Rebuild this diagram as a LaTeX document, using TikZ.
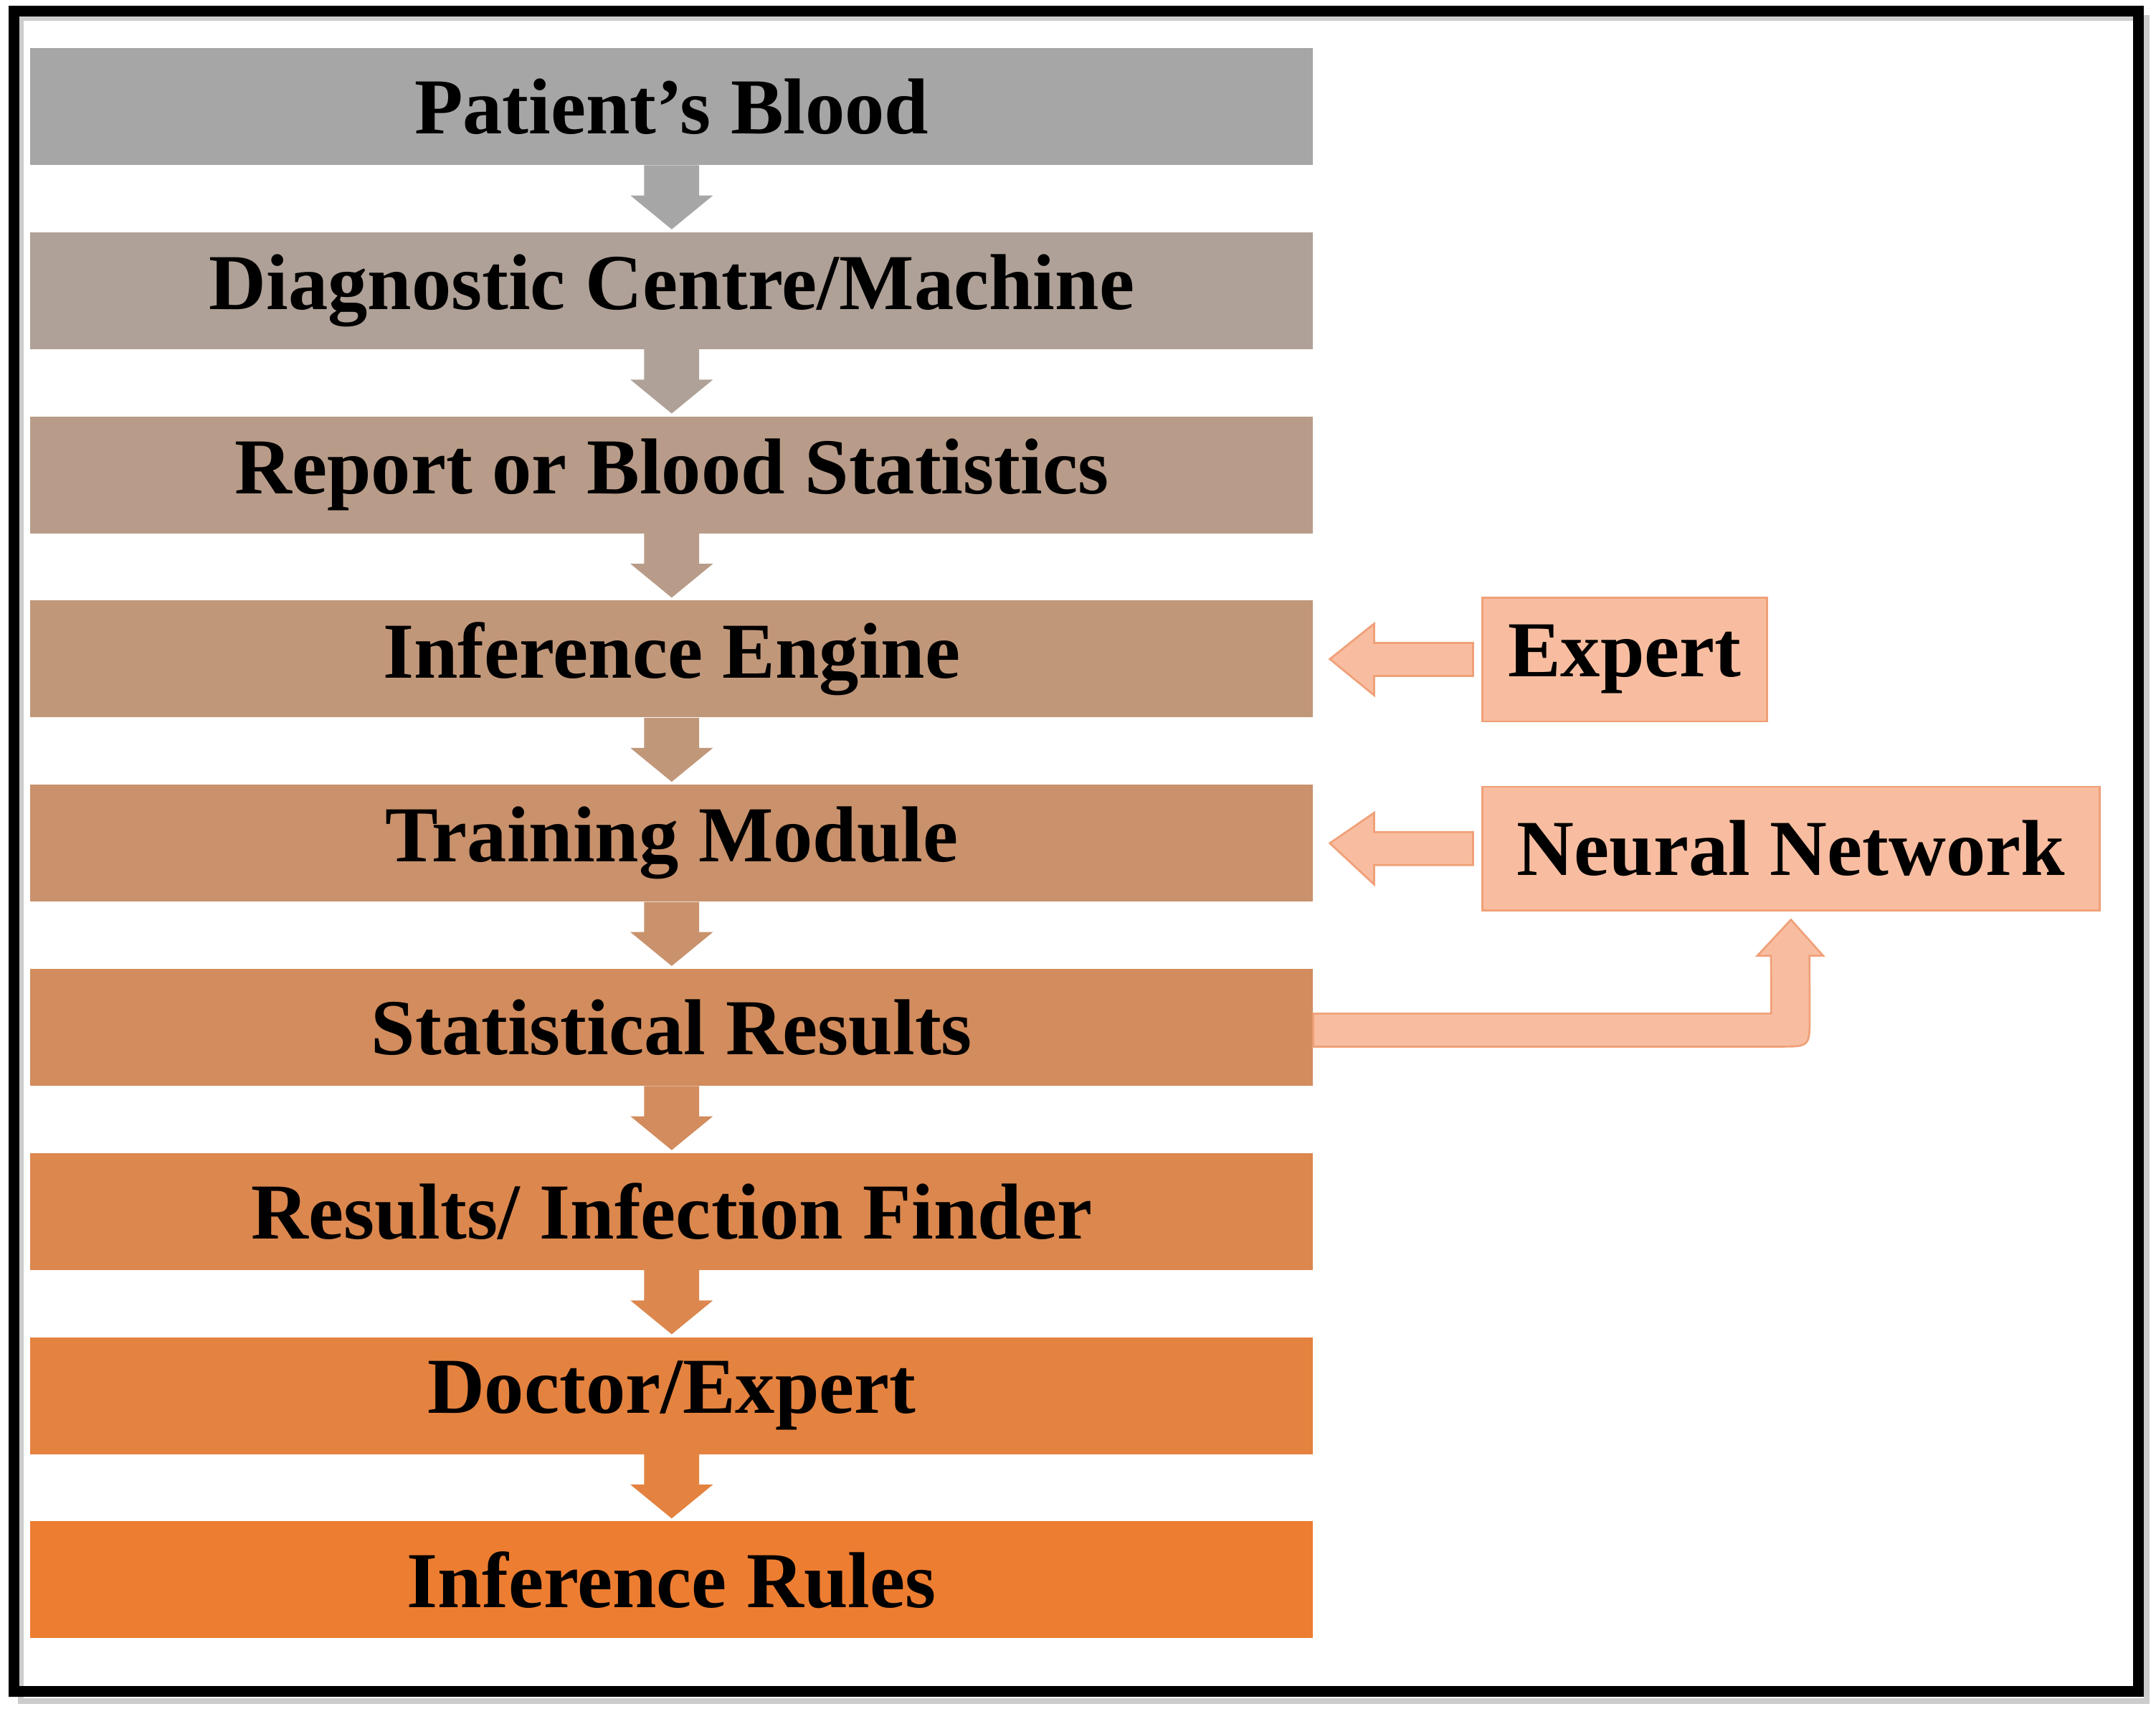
\documentclass[tikz,border=0pt]{standalone}
\usepackage{fontspec}
\setmainfont{Liberation Serif}
\usetikzlibrary{calc}
\definecolor{topgray}{RGB}{166,166,166}
\definecolor{botorange}{RGB}{237,125,49}
\definecolor{sidefill}{RGB}{248,189,160}
\definecolor{sideline}{RGB}{240,160,120}
\tikzset{
    stage/.style = { fill=#1, minimum width=933\unit, minimum height=85\unit,
                     inner sep=0pt, font=\fontsize{82}{90}\selectfont\bfseries },
     side/.style = { fill=sidefill, draw=sideline, line width=2pt, inner sep=0pt,
                     minimum height=90\unit, font=\fontsize{82}{90}\selectfont\bfseries },
    block/.style = { fill=sidefill, draw=sideline, line width=2pt },
}
\def\unit{*0.05cm}
\begin{document}
\begin{tikzpicture}[x=0.05cm,y=-0.05cm]
  \useasboundingbox (0,0) rectangle (1568,1246);
  % frame
  \draw[gray!40, line width=6pt] (15,13) rectangle (1561,1237);
  \draw[line width=11pt] (10,8) rectangle (1555,1230);
  % main column
  \foreach \t [count=\i from 0] in {Patient’s Blood,Diagnostic Centre/Machine,
      Report or Blood Statistics,Inference Engine,Training Module,Statistical Results,
      Results/ Infection Finder,Doctor/Expert,Inference Rules}{
    \pgfmathsetmacro{\p}{\i*12.5}
    \node[stage=botorange!\p!topgray] (s\i) at (488.5,{77.5+\i*133.9}) {\t};
  }
  % arrows between stages
  \foreach \i [evaluate=\i as \j using int(\i+1), evaluate=\i as \p using \i*12.5] in {0,...,7}{
    \fill[botorange!\p!topgray] ($(s\i.south)+(-20,0)$) -- ++(40,0) -- ++(0,22) -- ++(10,0)
      -- ($(s\j.north)+(0,-2)$) -- ($(s\i.south)+(-30,22)$) -- ++(10,0) -- cycle;
  }
  % side inputs
  \node[side, minimum width=207\unit] (expert) at (1181.5,479.5) {Expert};
  \node[side, minimum width=449\unit] (neural) at (1302.5,617) {Neural Network};
  \foreach \n/\s in {expert/s3,neural/s4}{
    \draw[block] ($(\n.west)+(-6,-12)$) -- ++(-72,0) -- ++(0,-14) -- ($(\s.east)+(12,0)$)
      -- ($(\n.west)+(-78,26)$) -- ++(0,-14) -- ++(72,0) -- cycle;
  }
  % feedback arrow
  \coordinate (fb) at ($(neural.south)+(0,6)$);
  \draw[block] ($(s5.east)+(0,-10)$) -- ($(s5.east)+(333,-10)$) -- (1288,695) -- (1278,695)
    -- (fb) -- (1326,695) -- (1316,695) -- ($(s5.east)+(361,-8)$)
    .. controls ($(s5.east)+(361,14)$) .. ($(s5.east)+(339,14)$) -- ($(s5.east)+(0,14)$) -- cycle;
\end{tikzpicture}
\end{document}
